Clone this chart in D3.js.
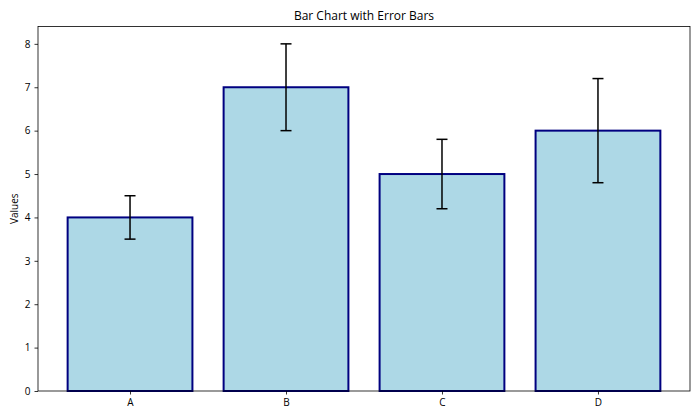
<!DOCTYPE html>
<html><head><meta charset="utf-8">
<script src="https://cdn.jsdelivr.net/npm/d3@7"></script>
<style>body{margin:0;background:#fff}text{font-family:"Open Sans","Noto Sans",sans-serif;fill:#000}</style>
</head><body><svg id="c" width="700" height="420"></svg>
<script>
const categories = ["A","B","C","D"];
const values = [4,7,5,6];
const errors = [0.5,1.0,0.8,1.2];
const yTicks = [0,1,2,3,4,5,6,7,8];

const svg = d3.select("#c");
const L=38,R=690,T=26.5,B=391;
const x = d3.scaleLinear().domain([-0.59,3.59]).range([L,R]);
const y = d3.scaleLinear().domain([0,8.4]).range([B,T]);
const bw = x(0.4)-x(-0.4);

svg.selectAll("rect.bar").data(values).join("rect").attr("class","bar")
  .attr("x",(d,i)=>x(i)-bw/2).attr("width",bw)
  .attr("y",d=>y(d)).attr("height",d=>y(0)-y(d))
  .attr("fill","#add8e6").attr("stroke","#000080").attr("stroke-width",2);

const eg = svg.append("g").attr("stroke","#000").attr("stroke-width",1.5);
values.forEach((v,i)=>{
  const cx=x(i);
  eg.append("line").attr("x1",cx).attr("x2",cx).attr("y1",y(v-errors[i])).attr("y2",y(v+errors[i]));
  [v-errors[i],v+errors[i]].forEach(e=>eg.append("line").attr("x1",cx-5.5).attr("x2",cx+5.5).attr("y1",y(e)).attr("y2",y(e)));
});

const ya = svg.append("g").attr("transform",`translate(${L},0)`)
  .call(d3.axisLeft(y).tickValues(yTicks).tickSize(3.5).tickPadding(4).tickFormat(d3.format("d")));
const xa = svg.append("g").attr("transform",`translate(0,${B})`)
  .call(d3.axisBottom(x).tickValues([0,1,2,3]).tickSize(3.5).tickPadding(4).tickFormat(i=>categories[i]));
[ya,xa].forEach(a=>{a.select(".domain").remove();a.selectAll("text").attr("font-size",10).attr("fill","#000");a.selectAll("line").attr("stroke","#000").attr("stroke-width",0.8);});

svg.append("rect").attr("x",L).attr("y",T).attr("width",R-L).attr("height",B-T)
  .attr("fill","none").attr("stroke","#000").attr("stroke-width",0.8);

svg.append("text").attr("x",(L+R)/2).attr("y",20).attr("text-anchor","middle").attr("font-size",12).text("Bar Chart with Error Bars");
svg.append("text").attr("transform",`translate(18,${(T+B)/2}) rotate(-90)`).attr("text-anchor","middle").attr("font-size",10).text("Values");
</script></body></html>
